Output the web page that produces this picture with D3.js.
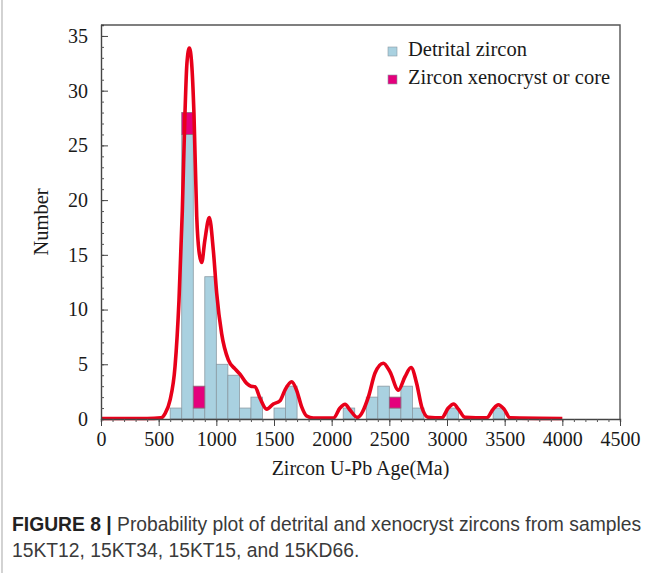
<!DOCTYPE html>
<html>
<head>
<meta charset="utf-8">
<script src="https://cdn.jsdelivr.net/npm/d3@7"></script>
<style>
  body { margin: 0; background: #fff; }
  svg { display: block; }
  .serif { font-family: "Liberation Serif", "Times New Roman", serif; fill: #1a1a1a; }
  .caption { font-family: "Liberation Sans", Arial, sans-serif; font-size: 19.3px; fill: #3a3a3a; }
</style>
</head>
<body>
<svg id="chart"></svg>
<script>
// histogram bins (start age, Ma, width 100)
const binStarts = [600, 700, 800, 900, 1000, 1100, 1200, 1300, 1500, 1600, 2100, 2300, 2400, 2500, 2600, 2700, 3000, 3400];
const detrital  = [1, 26, 1, 13, 5, 4, 1, 2, 1, 3, 1, 2, 3, 1, 3, 1, 1, 1];
const xenoStarts = [700, 800, 2500];
const xenoCounts = [2, 2, 1];

// probability curve
const curveAges = [0, 400, 520, 555, 598, 642, 676, 705, 728, 745, 766, 786, 806, 830, 850, 873, 900, 939, 974, 1003, 1046, 1104, 1160, 1205, 1263, 1300, 1335, 1379, 1437, 1494, 1552, 1595, 1653, 1697, 1740, 1783, 1841, 2015, 2072, 2116, 2159, 2223, 2318, 2376, 2448, 2506, 2578, 2636, 2688, 2737, 2781, 2838, 2954, 3011, 3058, 3099, 3156, 3344, 3400, 3445, 3495, 3546, 4000];
const curveVals = [0.05, 0.05, 0.1, 0.5, 1.7, 4.8, 10.8, 19, 27.9, 32.5, 33.9, 32.5, 27.9, 18.5, 15.3, 14.3, 16.3, 18.4, 15.4, 11.5, 7.8, 5.4, 4.6, 4.1, 3.25, 3.0, 2.95, 1.9, 0.9, 1.37, 1.67, 2.64, 3.4, 2.6, 1.1, 0.27, 0.08, 0.08, 1.0, 1.35, 0.82, 0.15, 2.0, 4.2, 5.1, 4.3, 2.64, 3.86, 4.7, 3.25, 1.1, 0.15, 0.1, 1.0, 1.37, 0.9, 0.15, 0.1, 0.9, 1.3, 0.9, 0.1, 0.05];

const xTicks = [0, 500, 1000, 1500, 2000, 2500, 3000, 3500, 4000, 4500];
const yTicks = [0, 5, 10, 15, 20, 25, 30, 35];
const legendLabels = ['Detrital zircon', 'Zircon xenocryst or core'];

const width = 668, height = 573;
const margin = { left: 101, right: 48, top: 25, bottom: 154 };
const blue = '#a9d1e0', pink = '#e4007c', red = '#e8001a';

const svg = d3.select('#chart').attr('width', width).attr('height', height);

const x = d3.scaleLinear().domain([0, 4500]).range([margin.left, width - margin.right]);
const y = d3.scaleLinear().domain([0, 36]).range([height - margin.bottom, margin.top]);

// outer figure border (left edge)
svg.append('line')
  .attr('x1', 2).attr('x2', 2).attr('y1', 0).attr('y2', height)
  .attr('stroke', '#b5b5b5').attr('stroke-width', 1.2);

// bars
const binW = 100;
svg.append('g').selectAll('rect')
  .data(binStarts)
  .join('rect')
  .attr('x', d => x(d))
  .attr('width', d => x(d + binW) - x(d))
  .attr('y', (d, i) => y(detrital[i]))
  .attr('height', (d, i) => y(0) - y(detrital[i]))
  .attr('fill', blue)
  .attr('stroke', '#8a9aa3')
  .attr('stroke-width', 0.8);

svg.append('g').selectAll('rect')
  .data(xenoStarts)
  .join('rect')
  .attr('x', d => x(d))
  .attr('width', d => x(d + binW) - x(d))
  .attr('y', (d, i) => y(detrital[binStarts.indexOf(d)] + xenoCounts[i]))
  .attr('height', (d, i) => y(0) - y(xenoCounts[i]))
  .attr('fill', pink)
  .attr('stroke', '#8a6a7a')
  .attr('stroke-width', 0.8);

// curve
const line = d3.line()
  .x((d, i) => x(curveAges[i]))
  .y(d => y(d))
  .curve(d3.curveMonotoneX);

svg.append('path')
  .datum(curveVals)
  .attr('d', line)
  .attr('fill', 'none')
  .attr('stroke', red)
  .attr('stroke-width', 3.6)
  .attr('stroke-linejoin', 'round');

// frame: top and right
svg.append('path')
  .attr('d', `M${x(0)},${y(36)}H${x(4500)}V${y(0)}`)
  .attr('fill', 'none')
  .attr('stroke', '#555')
  .attr('stroke-width', 1.4);

// x axis
const xAxis = svg.append('g')
  .attr('transform', `translate(0,${y(0)})`)
  .call(d3.axisBottom(x).tickValues(d3.range(0, 4501, 100)).tickSize(3).tickFormat(''));
xAxis.selectAll('.tick line').attr('stroke', '#555');
xAxis.select('.domain').attr('stroke', '#444').attr('stroke-width', 1.4);

const xMajor = svg.append('g')
  .attr('transform', `translate(0,${y(0)})`)
  .call(d3.axisBottom(x).tickValues(xTicks).tickSize(7).tickPadding(6).tickFormat(d3.format('d')));
xMajor.select('.domain').remove();
xMajor.selectAll('.tick line').attr('stroke', '#444');
xMajor.selectAll('text').attr('class', 'serif').style('font-size', '20px');

// y axis
const yAxis = svg.append('g')
  .attr('transform', `translate(${x(0)},0)`)
  .call(d3.axisLeft(y).tickValues(d3.range(0, 36, 1)).tickSize(-3).tickFormat(''));
yAxis.selectAll('.tick line').attr('stroke', '#555');
yAxis.select('.domain').attr('stroke', '#444').attr('stroke-width', 1.4);

const yMajor = svg.append('g')
  .attr('transform', `translate(${x(0)},0)`)
  .call(d3.axisLeft(y).tickValues(yTicks).tickSize(-7).tickPadding(13));
yMajor.select('.domain').remove();
yMajor.selectAll('.tick line').attr('stroke', '#444');
yMajor.selectAll('text').attr('class', 'serif').style('font-size', '20px');

// axis titles
svg.append('text')
  .attr('class', 'serif')
  .attr('x', (x(0) + x(4500)) / 2)
  .attr('y', 475)
  .attr('text-anchor', 'middle')
  .style('font-size', '20px')
  .text('Zircon U-Pb Age(Ma)');

svg.append('text')
  .attr('class', 'serif')
  .attr('transform', `translate(48,${(y(0) + y(36)) / 2}) rotate(-90)`)
  .attr('text-anchor', 'middle')
  .style('font-size', '20.5px')
  .text('Number');

// legend
const legend = svg.append('g').attr('transform', 'translate(388,0)');
legendLabels.forEach((lab, i) => {
  legend.append('rect')
    .attr('x', 0).attr('y', 47 + i * 28)
    .attr('width', 9).attr('height', 9)
    .attr('fill', i === 0 ? blue : pink)
    .attr('stroke', '#8a9aa3').attr('stroke-width', 0.6);
  legend.append('text')
    .attr('class', 'serif')
    .attr('x', 20).attr('y', 56 + i * 28)
    .style('font-size', '20.5px')
    .text(lab);
});

// caption
const cap = svg.append('text').attr('class', 'caption').attr('x', 12).attr('y', 531);
cap.append('tspan').style('font-weight', 'bold').attr('fill', '#222').text('FIGURE 8 | ');
cap.append('tspan').text('Probability plot of detrital and xenocryst zircons from samples');
svg.append('text').attr('class', 'caption').attr('x', 12).attr('y', 557)
  .text('15KT12, 15KT34, 15KT15, and 15KD66.');
</script>
</body>
</html>
